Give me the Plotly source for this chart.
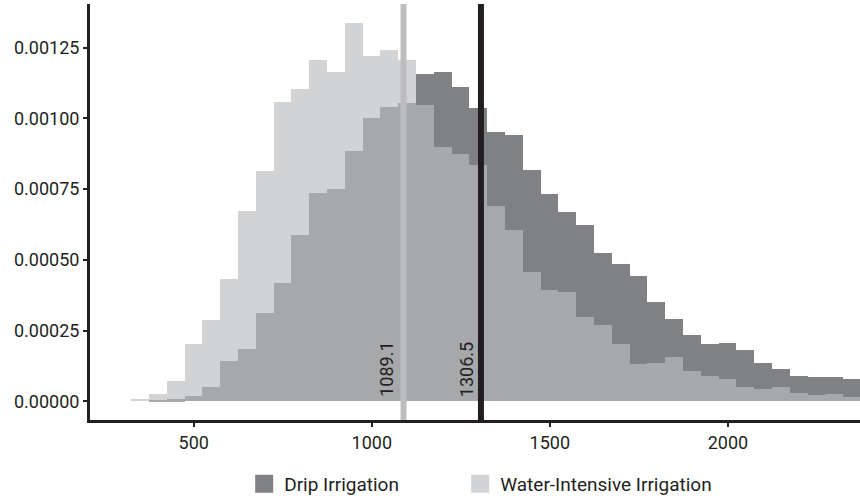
import numpy as np
import plotly.graph_objects as go

# ---- data ----
bin_start = 324
bin_width = 50
drip = [0.0, 0.0000035, 0.000007, 0.000018, 0.000049, 0.000142, 0.000184, 0.000311,
        0.000417, 0.000589, 0.000737, 0.000752, 0.000884, 0.001002, 0.001040, 0.001054,
        0.001157, 0.001163, 0.001110, 0.001038, 0.000953, 0.000942, 0.000817, 0.000732,
        0.000670, 0.000624, 0.000524, 0.000486, 0.000443, 0.000352, 0.000290, 0.000235,
        0.000203, 0.000206, 0.000182, 0.000134, 0.000114, 0.000090, 0.000084, 0.000087,
        0.000077]
water = [0.0000093, 0.000026, 0.000071, 0.000201, 0.000287, 0.000431, 0.000672, 0.000815,
         0.001058, 0.001103, 0.001208, 0.001165, 0.001337, 0.001220, 0.001242, 0.001208,
         0.001046, 0.000898, 0.000875, 0.000834, 0.000691, 0.000604, 0.000457, 0.000395,
         0.000388, 0.000297, 0.000269, 0.000203, 0.000132, 0.000136, 0.000158, 0.000107,
         0.000088, 0.000079, 0.000050, 0.000042, 0.000052, 0.000028, 0.000022, 0.000024,
         0.000015]
series_names = ["Drip Irrigation", "Water-Intensive Irrigation"]
mean_water = 1089.1
mean_drip = 1306.5
x_ticks = [500, 1000, 1500, 2000]
y_ticks = [0, 0.00025, 0.0005, 0.00075, 0.001, 0.00125]

# ---- styles ----
DARK = "#808185"
LIGHT = "#d2d3d5"
MID = "#a7a8ab"
LINE_LIGHT = "#bcbdbf"
INK = "#231f20"
FONT = "Roboto, sans-serif"

n = len(drip)
centers = bin_start + bin_width * (np.arange(n) + 0.5)
overlap = np.minimum(np.array(drip), np.array(water))

fig = go.Figure()
fig.add_trace(go.Bar(x=centers, y=drip, width=bin_width, marker=dict(color=DARK, line=dict(width=0)),
                     showlegend=False, name=series_names[0]))
fig.add_trace(go.Bar(x=centers, y=water, width=bin_width, marker=dict(color=LIGHT, line=dict(width=0)),
                     showlegend=False, name=series_names[1]))
fig.add_trace(go.Bar(x=centers, y=overlap, width=bin_width, marker=dict(color=MID, line=dict(width=0)),
                     showlegend=False, name="overlap"))
# legend entries
for nm, col, lg in zip(series_names, [DARK, LIGHT], ["legend", "legend2"]):
    fig.add_trace(go.Scatter(x=[None], y=[None], mode="markers", name=nm, legend=lg,
                             marker=dict(symbol="square", size=16, color=col,
                                         line=dict(color=col, width=2))))

for xv, col in [(mean_water, LINE_LIGHT), (mean_drip, INK)]:
    fig.add_shape(type="line", xref="x", yref="paper", x0=xv, x1=xv, y0=0, y1=1,
                  line=dict(color=col, width=6), layer="above")

for xv, xs in [(mean_water, -4), (mean_drip, -2)]:
    fig.add_annotation(x=xv, y=0, xref="x", yref="y", text=f"{xv:.1f}", textangle=-90,
                       showarrow=False, xanchor="right", yanchor="bottom", xshift=xs, yshift=2,
                       font=dict(family=FONT, size=18, color=INK))

# plot area: about 770 x 421 px (x 90..860, y 4..425); figure fills the window
leg_common = dict(orientation="h", xanchor="left", y=-(490 - 425) / 421, yanchor="middle",
                  font=dict(family=FONT, size=19, color=INK), itemsizing="trace",
                  bgcolor="rgba(0,0,0,0)")
fig.update_layout(
    autosize=True,
    margin=dict(l=90, r=0, t=4, b=78),
    barmode="overlay", bargap=0,
    plot_bgcolor="white", paper_bgcolor="white",
    font=dict(family=FONT, size=18, color=INK),
    legend=dict(x=(244.2 - 90) / 770, **leg_common),
    legend2=dict(x=(460.2 - 90) / 770, **leg_common),
)
fig.update_xaxes(range=[208.6, 2371], tickvals=x_ticks, ticks="outside", ticklen=4, tickwidth=2,
                 tickcolor=INK, showline=True, linecolor=INK, linewidth=3, showgrid=False,
                 zeroline=False, automargin=False, tickfont=dict(family=FONT, size=18, color=INK))
fig.update_yaxes(range=[-0.0000664, 0.0014048], tickvals=y_ticks, tickformat=".5f", ticks="outside",
                 ticklen=4, tickwidth=2, tickcolor=INK, showline=True, linecolor=INK, linewidth=3,
                 showgrid=False, zeroline=False, automargin=False,
                 tickfont=dict(family=FONT, size=18, color=INK))

fig.write_html("out.html",
               default_width="100vw", default_height="100vh",
               config={"displayModeBar": False},
               post_script="document.body.style.margin='0';document.body.style.overflow='hidden';")
